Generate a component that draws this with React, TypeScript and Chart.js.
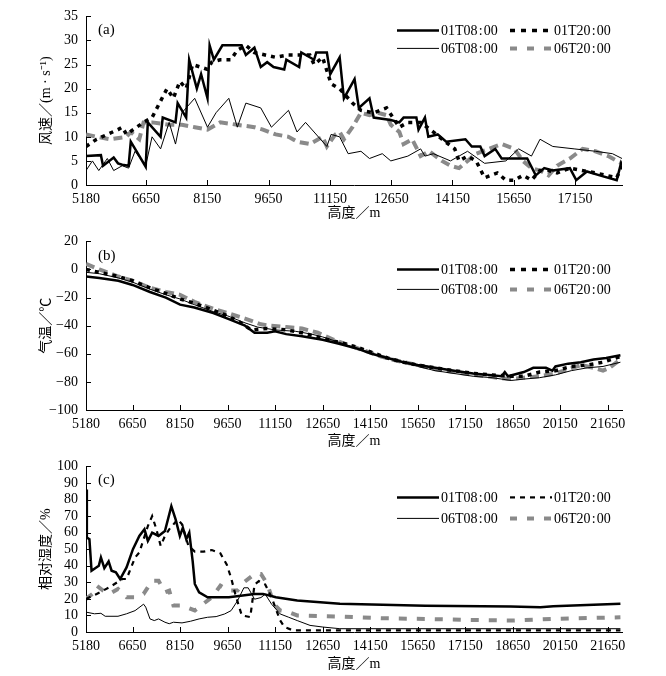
import React, { useEffect, useRef } from "react";
import { Chart, registerables } from "chart.js";

Chart.register(...registerables);

const FONT = "'Liberation Serif', 'Noto Sans CJK SC', serif";

// ---------- labels ----------
const SERIES_LABELS = ["01T08\u200A:\u200A00", "01T20\u200A:\u200A00", "06T08\u200A:\u200A00", "06T20\u200A:\u200A00"];
const X_TITLE = "高度／m";
const Y_TITLE_A = "风速／(m · s⁻¹)";
const Y_TITLE_B = "气温／℃";
const Y_TITLE_C = "相对湿度／%";
const X_TICKS_A = [5180, 6650, 8150, 9650, 11150, 12650, 14150, 15650, 17150];
const X_TICKS_BC = [5180, 6650, 8150, 9650, 11150, 12650, 14150, 15650, 17150, 18650, 20150, 21650];

// ---------- (a) wind speed ----------
const A_H_0108 = [5180, 5545, 5597, 5858, 5963, 6067, 6223, 6276, 6641, 6693, 7006, 7058, 7371, 7423, 7632, 7705, 7893, 7997, 8154, 8206, 8310, 8519, 8989, 9093, 9302, 9458, 9615, 9771, 10032, 10084, 10397, 10450, 10763, 10815, 11076, 11159, 11389, 11493, 11754, 11858, 12119, 12223, 12641, 12850, 12954, 13267, 13319, 13476, 13559, 13789, 13997, 14467, 14623, 14832, 14937, 15197, 15354, 15980, 16189, 16397, 16606, 17024, 17180, 17441, 17754, 18171, 18276, 18300];
const A_V_0108 = [6, 6.2, 4, 5.7, 4.5, 4.2, 4.0, 9, 3.8, 13, 10, 14, 13, 17, 14, 26, 20, 23, 18, 29, 26, 29, 29, 27, 28.5, 24.5, 25.5, 24.5, 24, 26, 24.5, 27.5, 26, 27.5, 27.5, 23, 26.5, 18, 22, 16, 18, 14, 13.5, 13, 14, 14, 11.5, 14, 10, 10.5, 9, 9.5, 8, 8, 6, 7.5, 5.5, 5.5, 2, 3.5, 3, 3.5, 1, 2.8, 2, 1, 4.5, 4];

const A_H_0120 = [5180, 5441, 5963, 6067, 6171, 6589, 6797, 7163, 7319, 7476, 7632, 7789, 8154, 8258, 8467, 8728, 8884, 9093, 9302, 9823, 10137, 10658, 10763, 10971, 11180, 11389, 11702, 11910, 12223, 12536, 12850, 13058, 13371, 13684, 13893, 14206, 14310, 14519, 14728, 14937, 15250, 15458, 15667, 15876, 16084, 16293, 16502, 16711, 17024, 17650, 18171, 18300];
const A_V_0120 = [8, 9.5, 11.5, 12, 10.5, 13, 14, 20, 18, 21.5, 20, 25, 24, 25.5, 26, 26, 28, 29, 27.5, 26.5, 27, 27, 25, 26.5, 21, 20, 17, 15.5, 15, 16, 12, 13, 13, 11, 9.5, 7.5, 5, 6, 5, 1.5, 2.5, 1, 1, 2, 1, 3, 3, 2.5, 3.5, 2.5, 1.5, 4];

const A_H_0608 = [5180, 5337, 5493, 5702, 5858, 6067, 6223, 6380, 6641, 6797, 7006, 7215, 7371, 7528, 7841, 8154, 8363, 8676, 8884, 9093, 9458, 9719, 10137, 10345, 10554, 11076, 11180, 11389, 11597, 11910, 12119, 12432, 12641, 13058, 13371, 13476, 13684, 14102, 14519, 14937, 15458, 15771, 16084, 16293, 16606, 17128, 17650, 18067, 18300];
const A_V_0608 = [3, 5, 3, 5.5, 3, 4, 3.5, 7, 4, 10, 7.5, 13, 8.5, 15, 18, 12, 15, 18, 12, 17, 16, 12, 15.5, 11, 13, 8, 10.5, 10, 6.5, 7, 5.5, 6.5, 5, 6, 7.5, 6, 6.5, 5, 7, 4.5, 5, 7.5, 6, 9.5, 8, 7.5, 7, 6.5, 5.5];

const A_H_0620 = [5180, 5441, 5754, 6171, 6276, 6484, 6589, 6797, 7215, 7528, 7841, 8154, 8467, 8884, 9302, 9510, 9823, 10137, 10345, 10658, 10971, 11076, 11284, 11389, 11493, 11702, 11910, 12119, 12328, 12536, 12641, 12850, 12954, 13163, 13371, 13580, 13893, 14102, 14310, 14519, 14728, 15041, 15354, 15667, 15876, 16084, 16293, 16502, 16711, 17024, 17337, 17650, 17963, 18171, 18300];
const A_V_0620 = [10.5, 10, 9.5, 10, 11, 9.5, 13, 13, 12.5, 12.5, 12, 11.5, 13, 12.5, 12, 11.5, 10.5, 10, 9, 8.5, 10, 8, 10.5, 11, 9.5, 12, 15, 14.5, 15, 14.5, 12.5, 11, 8.5, 9.5, 6, 7, 5, 4, 3.5, 5, 6.5, 7.5, 8.5, 7.5, 5, 3.5, 3, 2, 4, 5.5, 7.5, 7, 6, 5, 4.5];

// ---------- (b) temperature ----------
const B_H_0108 = [5180, 5600, 6200, 6650, 7200, 7700, 8150, 8600, 9200, 9650, 10200, 10500, 10900, 11150, 11500, 12000, 12650, 13200, 13700, 14200, 14700, 15200, 15650, 16200, 16800, 17400, 17900, 18300, 18400, 18500, 19000, 19300, 19700, 19900, 20000, 20400, 20800, 21200, 21600, 22050];
const B_V_0108 = [-5, -6, -8, -11, -16, -20, -25, -27, -31, -35, -40, -45, -45, -44, -46, -47.5, -50, -53, -56, -60, -63, -66, -68, -70, -72, -74, -75, -76, -73, -76, -73, -70, -70, -72, -69, -67, -66, -64, -63, -61];

const B_H_0120 = [5180, 5600, 6200, 6650, 7200, 7700, 8150, 8600, 9200, 9650, 10000, 10400, 10900, 11500, 12000, 12650, 13200, 13700, 14200, 14700, 15200, 15650, 16200, 16800, 17400, 18000, 18600, 19000, 19500, 20000, 20500, 21000, 21500, 22050];
const B_V_0120 = [0, -2, -5, -8, -13, -17, -21, -24, -29, -33, -37, -43, -42, -43, -45, -49, -52, -55, -59, -63, -66, -68, -70, -72, -74, -75, -76, -76, -73, -72, -69, -68, -66, -62];

const B_H_0608 = [5180, 5600, 6200, 6650, 7200, 7700, 8150, 8600, 9200, 9650, 10200, 10600, 11150, 11800, 12300, 12650, 13200, 13700, 14200, 14700, 15200, 15650, 16200, 16800, 17400, 18000, 18600, 19000, 19500, 20000, 20500, 21000, 21500, 22050];
const B_V_0608 = [-2, -3, -6, -9, -14, -18, -21, -25, -30, -33, -38, -41, -43, -44, -46, -48, -52, -56, -60, -63, -66, -69, -72, -74, -76, -77, -79, -78, -77, -75, -72, -70, -69, -66];

const B_H_0620 = [5180, 5600, 6200, 6650, 7200, 7700, 8150, 8600, 9200, 9650, 10200, 10700, 11000, 11500, 12000, 12500, 13000, 13500, 14000, 14500, 15000, 15650, 16200, 16800, 17400, 18000, 18500, 19000, 19500, 20000, 20400, 20800, 21200, 21500, 21700, 22050];
const B_V_0620 = [4, 0, -5, -8, -13, -16, -18, -23, -28, -31, -35, -39, -40, -41, -42, -45, -50, -54, -58, -62, -65, -68, -71, -73, -75, -76.5, -78, -77, -76, -74, -71, -68, -70, -72, -70, -64];

// ---------- (c) relative humidity ----------
const C_H_0108 = [5180, 5207, 5288, 5355, 5584, 5651, 5759, 5894, 5988, 6123, 6258, 6460, 6662, 6864, 7025, 7133, 7268, 7470, 7672, 7874, 8009, 8143, 8238, 8345, 8440, 8548, 8615, 8750, 9019, 9692, 10501, 10770, 11174, 11848, 13195, 14542, 15888, 18583, 19526, 19930, 22050];
const C_V_0108 = [86, 57, 56, 37, 40, 45, 38.6, 42.6, 37, 36, 32, 39, 50, 58, 62, 55, 60, 58, 61, 76, 68, 58, 63, 56, 60, 42.6, 29, 24, 21, 21, 23, 23, 21, 19, 17, 16.4, 15.8, 15.4, 14.9, 15.5, 17];

const C_H_0120 = [5180, 5517, 5921, 6325, 6460, 6729, 6864, 6998, 7133, 7268, 7403, 7537, 7672, 7807, 8076, 8211, 8413, 8615, 8884, 9154, 9423, 9625, 9760, 9894, 10097, 10366, 10501, 10636, 10838, 11039, 11309, 11444, 11713, 22050];
const C_V_0120 = [20, 23, 27, 32, 32, 45, 48, 56, 64, 70, 62, 52, 58, 62, 68, 65, 52, 48.5, 48.5, 49.5, 47.5, 40.6, 32.7, 22.8, 10, 9, 28.7, 30.7, 28.7, 20.8, 7, 3, 1, 1];

const C_H_0608 = [5180, 5449, 5651, 5786, 6190, 6460, 6729, 6998, 7066, 7200, 7335, 7470, 7672, 7807, 7941, 8211, 8480, 8750, 9019, 9288, 9558, 9760, 9962, 10164, 10299, 10501, 10703, 10838, 11039, 11309, 11579, 11848, 12252, 12656, 13195, 22050];
const C_V_0608 = [12, 11, 11.3, 9.5, 9.5, 11, 12.9, 16.8, 15, 7.9, 6.9, 7.9, 5.9, 5, 5.9, 5.5, 6.5, 7.9, 8.9, 9.3, 10.9, 12.9, 18.8, 26.7, 26.7, 19.8, 20.8, 22.8, 16.8, 10.9, 8.9, 6.9, 4, 3, 2, 2];

const C_H_0620 = [5180, 5382, 5517, 5719, 5921, 6190, 6460, 6729, 6998, 7268, 7470, 7672, 7807, 7941, 8143, 8345, 8615, 8884, 9154, 9423, 9692, 9962, 10164, 10501, 10703, 10905, 11107, 11309, 11579, 11848, 13195, 14542, 15888, 17235, 18583, 19930, 22050];
const C_V_0620 = [20, 23, 28, 25, 23, 26, 21, 21, 23, 31, 31, 24, 25, 16, 16, 15, 13, 17, 21, 28, 25, 25, 30, 35, 35, 29, 17, 13, 12, 10, 9.3, 8.3, 7.9, 7.3, 6.9, 7.9, 8.9];

const pts = (h: number[], v: number[]) => h.map((x, i) => ({ x, y: v[i] }));

const decoPlugin = {
  id: "deco",
  afterDatasetsDraw(chart: any, _args: any, opts: any) {
    const { ctx, chartArea } = chart;
    const xs = chart.scales.x;
    const ys = chart.scales.y;
    ctx.save();
    // inner tick marks
    ctx.strokeStyle = "#000";
    ctx.lineWidth = 1;
    ctx.setLineDash([]);
    xs.ticks.forEach((t: any) => {
      const px = Math.round(xs.getPixelForValue(t.value)) + 0.5;
      ctx.beginPath();
      ctx.moveTo(px, chartArea.bottom);
      ctx.lineTo(px, chartArea.bottom - 5);
      ctx.stroke();
    });
    ys.ticks.forEach((t: any) => {
      const py = Math.round(ys.getPixelForValue(t.value)) + 0.5;
      ctx.beginPath();
      ctx.moveTo(chartArea.left, py);
      ctx.lineTo(chartArea.left + 5, py);
      ctx.stroke();
    });
    // panel label
    ctx.fillStyle = "#000";
    ctx.textBaseline = "middle";
    ctx.textAlign = "left";
    ctx.font = "15px " + FONT;
    ctx.fillText(opts.label, 98, chartArea.top + opts.labelDy);
    // legend
    ctx.font = "14px " + FONT;
    const cols = [397, 510];
    chart.data.datasets.forEach((d: any, i: number) => {
      const col = i % 2;
      const row = Math.floor(i / 2);
      const y = chartArea.top + opts.legendDy[row];
      const x0 = cols[col];
      const x1 = x0 + 42;
      ctx.beginPath();
      ctx.setLineDash(d.legendDash || d.borderDash || []);
      ctx.lineWidth = d.borderWidth;
      ctx.strokeStyle = d.borderColor;
      ctx.moveTo(x0, y);
      ctx.lineTo(x1, y);
      ctx.stroke();
      ctx.setLineDash([]);
      ctx.fillStyle = "#000";
      ctx.fillText(d.label, x1 + 2, y + 1);
    });
    ctx.restore();
  },
};

type Style = { color: string; width: number; dash: number[]; legendDash: number[] };

type PanelProps = {
  top: number;
  height: number;
  series: { x: number; y: number }[][];
  styles: Style[];
  xMax: number;
  xTicks: number[];
  yMin: number;
  yMax: number;
  yStep: number;
  yTitle: string;
  areaTop: number;
  areaBottom: number;
  xTitlePad: number;
  label: string;
  labelDy: number;
  legendDy: number[];
};

function Panel(p: PanelProps) {
  const ref = useRef<HTMLCanvasElement | null>(null);
  useEffect(() => {
    if (!ref.current) return;
    const chart = new Chart(ref.current, {
      type: "line",
      data: {
        datasets: p.series.map((s, i) => ({
          label: SERIES_LABELS[i],
          data: s,
          borderColor: p.styles[i].color,
          borderWidth: p.styles[i].width,
          borderDash: p.styles[i].dash,
          legendDash: p.styles[i].legendDash,
          pointRadius: 0,
          tension: 0,
          fill: false,
        })),
      },
      options: {
        responsive: false,
        animation: false,
        devicePixelRatio: 1,
        layout: { padding: { top: p.areaTop, right: 44, left: 0, bottom: 0 } },
        plugins: {
          legend: { display: false },
          tooltip: { enabled: false },
          deco: { label: p.label, labelDy: p.labelDy, legendDy: p.legendDy },
        } as any,
        scales: {
          x: {
            type: "linear",
            min: 5180,
            max: p.xMax,
            afterBuildTicks: (scale: any) => {
              scale.ticks = p.xTicks.map((v) => ({ value: v }));
            },
            afterFit: (scale: any) => {
              scale.height = p.height - p.areaBottom;
            },
            grid: { display: true, drawOnChartArea: false, drawTicks: false },
            border: { display: true, color: "#000", width: 1 },
            ticks: {
              autoSkip: false,
              maxRotation: 0,
              padding: 6,
              color: "#000",
              font: { family: FONT, size: 14 },
              callback: (v: any) => String(v),
            },
            title: {
              display: true,
              text: X_TITLE,
              color: "#000",
              font: { family: FONT, size: 14 },
              padding: { top: 0, bottom: p.xTitlePad },
            },
          },
          y: {
            min: p.yMin,
            max: p.yMax,
            afterFit: (scale: any) => {
              scale.width = 86;
            },
            grid: { display: true, drawOnChartArea: false, drawTicks: false },
            border: { display: true, color: "#000", width: 1 },
            ticks: {
              stepSize: p.yStep,
              autoSkip: false,
              padding: 8,
              color: "#000",
              font: { family: FONT, size: 14 },
              callback: (v: any) => String(v).replace("-", "\u2212"),
            },
            title: {
              display: true,
              text: p.yTitle,
              color: "#000",
              font: { family: FONT, size: 14 },
              padding: { top: 38, bottom: 0 },
            },
          },
        },
      },
      plugins: [decoPlugin],
    } as any);
    return () => chart.destroy();
  }, []);
  return (
    <canvas
      ref={ref}
      width={666}
      height={p.height}
      style={{ position: "absolute", left: 0, top: p.top, width: 666, height: p.height }}
    />
  );
}

const GRAY = "#8a8a8a";

export default function App() {
  const stylesAB: Style[] = [
    { color: "#000", width: 2.5, dash: [], legendDash: [] },
    { color: "#000", width: 3.5, dash: [4, 5], legendDash: [5, 6] },
    { color: "#000", width: 1, dash: [], legendDash: [] },
    { color: GRAY, width: 4, dash: [9, 5], legendDash: [7, 10] },
  ];
  const stylesC: Style[] = [
    { color: "#000", width: 2.5, dash: [], legendDash: [] },
    { color: "#000", width: 2.2, dash: [5, 5], legendDash: [5, 5] },
    { color: "#000", width: 1, dash: [], legendDash: [] },
    { color: GRAY, width: 4, dash: [8, 10], legendDash: [7, 10] },
  ];
  return (
    <div style={{ position: "absolute", left: 0, top: 0, width: 666, height: 676, background: "#fff" }}>
      <Panel
        top={0}
        height={225}
        series={[pts(A_H_0108, A_V_0108), pts(A_H_0120, A_V_0120), pts(A_H_0608, A_V_0608), pts(A_H_0620, A_V_0620)]}
        styles={stylesAB}
        xMax={18300}
        xTicks={X_TICKS_A}
        yMin={0}
        yMax={35}
        yStep={5}
        yTitle={Y_TITLE_A}
        areaTop={15}
        areaBottom={185}
        xTitlePad={3}
        label="(a)"
        labelDy={14}
        legendDy={[14, 32]}
      />
      <Panel
        top={225}
        height={225}
        series={[pts(B_H_0108, B_V_0108), pts(B_H_0120, B_V_0120), pts(B_H_0608, B_V_0608), pts(B_H_0620, B_V_0620)]}
        styles={stylesAB}
        xMax={22100}
        xTicks={X_TICKS_BC}
        yMin={-100}
        yMax={20}
        yStep={20}
        yTitle={Y_TITLE_B}
        areaTop={16}
        areaBottom={185}
        xTitlePad={0}
        label="(b)"
        labelDy={15}
        legendDy={[28, 48]}
      />
      <Panel
        top={450}
        height={226}
        series={[pts(C_H_0108, C_V_0108), pts(C_H_0120, C_V_0120), pts(C_H_0608, C_V_0608), pts(C_H_0620, C_V_0620)]}
        styles={stylesC}
        xMax={22100}
        xTicks={X_TICKS_BC}
        yMin={0}
        yMax={100}
        yStep={10}
        yTitle={Y_TITLE_C}
        areaTop={13}
        areaBottom={182}
        xTitlePad={3}
        label="(c)"
        labelDy={14}
        legendDy={[31, 52]}
      />
    </div>
  );
}
